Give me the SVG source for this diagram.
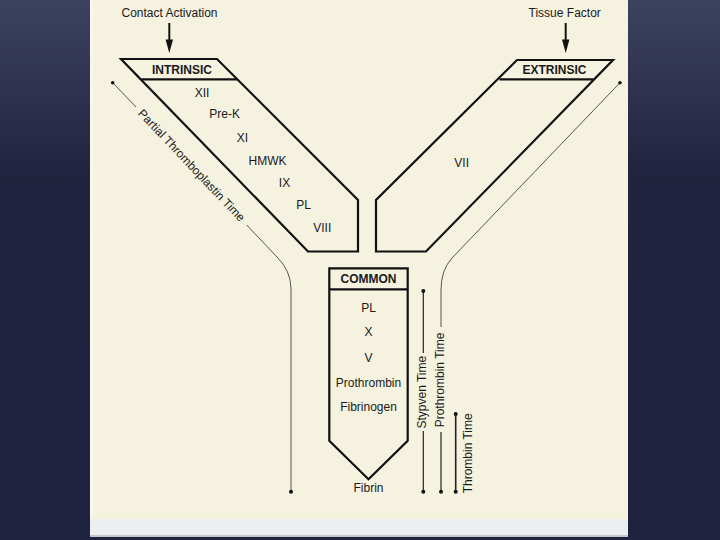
<svg xmlns="http://www.w3.org/2000/svg" width="720" height="540" viewBox="0 0 720 540">
  <defs>
    <linearGradient id="bg" x1="0" y1="0" x2="0" y2="1">
      <stop offset="0" stop-color="#3d4260"/>
      <stop offset="0.32" stop-color="#20243f"/>
      <stop offset="1" stop-color="#1f2340"/>
    </linearGradient>
    <style>
      .shape { fill: #f5f2e0; stroke: #111; stroke-width: 2.2; stroke-linejoin: miter; }
      .hdr { fill: none; stroke: #111; stroke-width: 2.2; }
      .t { font-family: "Liberation Sans", Arial, sans-serif; font-size: 12px; fill: #1a1a1a; }
      .c { text-anchor: middle; }
      .b { font-weight: bold; }
      .thin { fill: none; stroke: #555; stroke-width: 1; }
      .vline { fill: none; stroke: #222; stroke-width: 1.2; }
      .dot { fill: #111; }
      .arr { stroke: #111; stroke-width: 2; }
    </style>
  </defs>

  <rect x="0" y="0" width="720" height="540" fill="url(#bg)"/>
  <rect x="90" y="0" width="538" height="519" fill="#f5f2e0"/>
  <rect x="90" y="0" width="3" height="519" fill="#f9f7ec"/>
  <rect x="90" y="519" width="538" height="16" fill="#edeef0"/>
  <rect x="90" y="535" width="538" height="2" fill="#c5c7cf"/>

  <g id="intrinsic">
    <polygon class="shape" points="121,59 217,59 358,200 358,251.5 308,251.5"/>
    <line class="hdr" x1="141.5" y1="79.3" x2="237" y2="79.3"/>
    <text class="t c b" x="182" y="74">INTRINSIC</text>
    <text class="t c" x="202" y="96.7">XII</text>
    <text class="t c" x="224.7" y="118.3">Pre-K</text>
    <text class="t c" x="242.5" y="141.7">XI</text>
    <text class="t c" x="267.5" y="165">HMWK</text>
    <text class="t c" x="284.5" y="186.7">IX</text>
    <text class="t c" x="303.5" y="209.3">PL</text>
    <text class="t c" x="322.3" y="231.7">VIII</text>
  </g>

  <g id="extrinsic">
    <polygon class="shape" points="613,60 517,60 376,200 376,251.5 426,251.5"/>
    <line class="hdr" x1="499.5" y1="79.3" x2="593.5" y2="79.3"/>
    <text class="t c b" x="554.5" y="74">EXTRINSIC</text>
    <text class="t c" x="461.7" y="166.7">VII</text>
  </g>

  <g id="common">
    <polygon class="shape" points="329.3,268.3 407.7,268.3 407.7,440.7 368.5,479.3 329.3,440.7"/>
    <line class="hdr" x1="329.3" y1="289.3" x2="407.7" y2="289.3"/>
    <text class="t c b" x="368.5" y="283">COMMON</text>
    <text class="t c" x="368.5" y="312.3">PL</text>
    <text class="t c" x="368.5" y="336">X</text>
    <text class="t c" x="368.5" y="362">V</text>
    <text class="t c" x="368.5" y="387.3">Prothrombin</text>
    <text class="t c" x="368.5" y="411">Fibrinogen</text>
  </g>

  <g id="fibrin">
    <text class="t c" x="368.5" y="492">Fibrin</text>
  </g>

  <g id="contact-activation">
    <text class="t c" x="169.5" y="17.3">Contact Activation</text>
  </g>

  <g id="tissue-factor">
    <text class="t c" x="564.7" y="17.3">Tissue Factor</text>
  </g>

  <g id="connectors">
    <!-- input arrows -->
    <line class="arr" x1="169.3" y1="23" x2="169.3" y2="41"/>
    <polygon class="dot" points="165.6,39.5 173,39.5 169.3,53"/>
    <line class="arr" x1="565.7" y1="23" x2="565.7" y2="41"/>
    <polygon class="dot" points="562,39.5 569.4,39.5 565.7,53"/>

    <!-- Partial Thromboplastin Time -->
    <path class="thin" d="M112.7,82.7 L136,107"/>
    <path class="thin" d="M246.7,225 L277,257 Q291,271 291,289 L291,491.7"/>
    <circle class="dot" cx="112.7" cy="82.7" r="1.8"/>
    <circle class="dot" cx="291" cy="491.7" r="2"/>
    <text class="t c" x="0" y="0" dominant-baseline="central" transform="translate(191.5,165.5) rotate(46.6)">Partial Thromboplastin Time</text>

    <!-- Prothrombin Time -->
    <path class="thin" d="M620,82.7 L452,258 Q441,270 441,290 L441,327"/>
    <path class="vline" d="M441,432 L441,491.7"/>
    <circle class="dot" cx="620" cy="82.7" r="1.8"/>
    <circle class="dot" cx="441" cy="491.7" r="2"/>
    <text class="t c" x="0" y="0" dominant-baseline="central" transform="translate(440,380) rotate(-90)">Prothrombin Time</text>

    <!-- Stypven Time -->
    <path class="vline" d="M423.3,291 L423.3,353 M423.3,431 L423.3,491.7"/>
    <circle class="dot" cx="423.3" cy="291" r="2"/>
    <circle class="dot" cx="423.3" cy="491.7" r="2"/>
    <text class="t c" x="0" y="0" dominant-baseline="central" transform="translate(422,392.2) rotate(-90)">Stypven Time</text>

    <!-- Thrombin Time -->
    <path class="vline" d="M455.7,414 L455.7,491.7" style="stroke-width:1.6"/>
    <circle class="dot" cx="455.7" cy="414" r="2"/>
    <circle class="dot" cx="455.7" cy="491.7" r="2"/>
    <text class="t c" x="0" y="0" dominant-baseline="central" transform="translate(467.5,453.3) rotate(-90)">Thrombin Time</text>
  </g>
</svg>
